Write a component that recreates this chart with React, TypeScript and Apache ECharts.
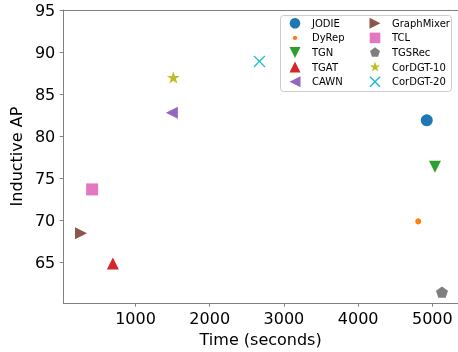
import React, { useEffect, useRef } from "react";
import * as echarts from "echarts";

const methods = ["JODIE", "DyRep", "TGN", "TGAT", "CAWN", "GraphMixer", "TCL", "TGSRec", "CorDGT-10", "CorDGT-20"];
const timeSeconds = [4925, 4810, 5035, 695, 1490, 265, 415, 5130, 1510, 2670];
const inductiveAP = [81.9, 69.9, 76.4, 64.9, 82.8, 68.5, 73.7, 61.5, 87.0, 88.9];
const colors = ["#1f77b4", "#ff7f0e", "#2ca02c", "#d62728", "#9467bd", "#8c564b", "#e377c2", "#7f7f7f", "#bcbd22", "#17becf"];
const xTicks = [1000, 2000, 3000, 4000, 5000];
const yTicks = [65, 70, 75, 80, 85, 90, 95];

const STAR = "path://M50,0 L61.23,34.55 L97.55,34.55 L68.16,55.9 L79.39,90.45 L50,69.1 L20.61,90.45 L31.84,55.9 L2.45,34.55 L38.77,34.55 Z";
const PENT = "path://M50,0 L97.55,34.55 L79.39,90.45 L20.61,90.45 L2.45,34.55 Z";
const XMARK = "path://M0,8 L8,0 L50,42 L92,0 L100,8 L58,50 L100,92 L92,100 L50,58 L8,100 L0,92 L42,50 Z";

// legend icons drawn inside a 24x11 frame (x10 units), marker centred at x=12
const FRAME = "M0,0 M240,110 ";
const legendIcons = [
  "path://" + FRAME + "M120,2 A53,53 0 1 1 119.9,2 Z",
  "path://" + FRAME + "M120,33 A22,22 0 1 1 119.9,33 Z",
  "path://" + FRAME + "M65,0 L175,0 L120,110 Z",
  "path://" + FRAME + "M120,0 L175,110 L65,110 Z",
  "path://" + FRAME + "M65,55 L175,0 L175,110 Z",
  "path://" + FRAME + "M65,0 L175,55 L65,110 Z",
  "path://" + FRAME + "M67,2 L173,2 L173,108 L67,108 Z",
  "path://" + FRAME + "M120,3 L169.5,38.9 L150.6,97.1 L89.4,97.1 L70.5,38.9 Z",
  "path://" + FRAME + "M120,0 L132.3,38 L172.3,38 L140,61.5 L152.3,99.5 L120,76 L87.7,99.5 L100,61.5 L67.7,38 L107.7,38 Z",
  "path://" + FRAME + "M65,10 L75,0 L120,45 L165,0 L175,10 L130,55 L175,100 L165,110 L120,65 L75,110 L65,100 L110,55 Z",
];

const markerStyles: any[] = [
  { symbol: "circle", symbolSize: 12, symbolRotate: 0 },
  { symbol: "circle", symbolSize: 6, symbolRotate: 0 },
  { symbol: "triangle", symbolSize: [12, 12], symbolRotate: 180 },
  { symbol: "triangle", symbolSize: [12, 12], symbolRotate: 0 },
  { symbol: "triangle", symbolSize: [12, 12], symbolRotate: 90 },
  { symbol: "triangle", symbolSize: [12, 12], symbolRotate: -90 },
  { symbol: "rect", symbolSize: 12, symbolRotate: 0 },
  { symbol: PENT, symbolSize: 12, symbolRotate: 0 },
  { symbol: STAR, symbolSize: 13, symbolRotate: 0 },
  { symbol: XMARK, symbolSize: 12, symbolRotate: 0 },
];

const FONT = "DejaVu Sans";
const AXIS_COLOR = "#808080";
const X_MIN = 26;
const X_MAX = 5346;

export default function App() {
  const ref = useRef<HTMLDivElement>(null);
  useEffect(() => {
    if (!ref.current) return;
    const chart = echarts.init(ref.current, undefined, { renderer: "svg" });
    const series = methods.map((m, i) => ({
      type: "scatter",
      name: m,
      data: [[timeSeconds[i], inductiveAP[i]]],
      symbol: markerStyles[i].symbol,
      symbolSize: markerStyles[i].symbolSize,
      symbolRotate: markerStyles[i].symbolRotate,
      symbolKeepAspect: true,
      itemStyle: { color: colors[i], opacity: 1 },
      emphasis: { disabled: true },
    }));
    const legendBase = {
      orient: "vertical",
      top: 17.8,
      padding: 0,
      itemWidth: 24,
      itemHeight: 11,
      itemGap: 3.6,
      symbolRotate: 0,
      textStyle: { fontFamily: FONT, fontSize: 10, color: "#000" },
      selectedMode: false,
    };
    const legendData = methods.map((m, i) => ({ name: m, icon: legendIcons[i] }));
    chart.setOption({
      animation: false,
      grid: { left: 63, top: 10, right: 0, bottom: 47, show: false },
      xAxis: [
        {
          type: "value",
          min: X_MIN,
          max: X_MAX,
          name: "Time (seconds)",
          nameLocation: "middle",
          nameGap: 25,
          nameTextStyle: { fontFamily: FONT, fontSize: 16, color: "#000" },
          axisLine: { show: true, lineStyle: { color: AXIS_COLOR } },
          axisTick: { show: true, length: 3.5, customValues: xTicks, lineStyle: { color: AXIS_COLOR } },
          axisLabel: { customValues: xTicks, formatter: (v: number) => String(v), fontFamily: FONT, fontSize: 16, color: "#000", margin: 7 },
          splitLine: { show: false },
        },
        {
          type: "value",
          position: "top",
          min: X_MIN,
          max: X_MAX,
          axisLine: { show: true, onZero: false, lineStyle: { color: AXIS_COLOR } },
          axisTick: { show: false },
          axisLabel: { show: false },
          splitLine: { show: false },
        },
      ],
      yAxis: {
        type: "value",
        min: 60.2,
        max: 95,
        name: "Inductive AP",
        nameLocation: "middle",
        nameGap: 31,
        nameTextStyle: { fontFamily: FONT, fontSize: 16, color: "#000" },
        axisLine: { show: true, lineStyle: { color: AXIS_COLOR } },
        axisTick: { show: true, length: 3.5, customValues: yTicks, lineStyle: { color: AXIS_COLOR } },
        axisLabel: { customValues: yTicks, formatter: (v: number) => String(v), fontFamily: FONT, fontSize: 16, color: "#000", margin: 8 },
        splitLine: { show: false },
      },
      graphic: [
        {
          type: "rect",
          shape: { x: 280.5, y: 15.5, width: 171, height: 76, r: 3 },
          style: { fill: "rgba(255,255,255,0.8)", stroke: "#cccccc", lineWidth: 1 },
          z: 3,
        },
      ],
      legend: [
        { ...legendBase, left: 283, data: legendData.slice(0, 5) },
        { ...legendBase, left: 363, data: legendData.slice(5) },
      ],
      series,
    });
    return () => chart.dispose();
  }, []);
  return <div ref={ref} style={{ width: 458, height: 352, position: "fixed", left: 0, top: 0 }} />;
}
